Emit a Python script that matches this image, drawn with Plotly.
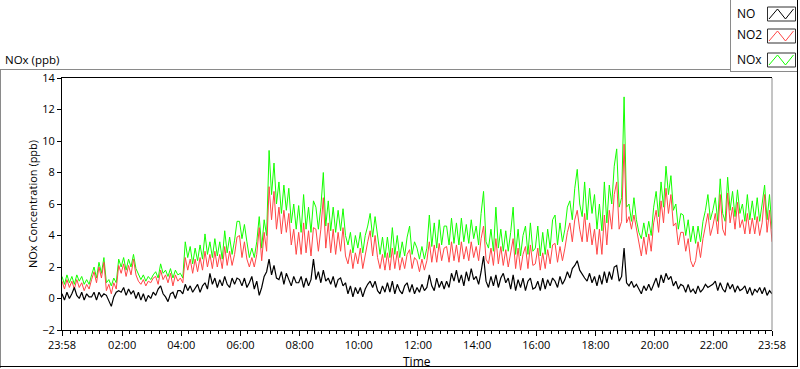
import plotly.graph_objects as go
import pandas as pd

# ---- data: 5-minute samples, 23:58 -> 23:58 next day (one row per hour) ----
no = [
    0.3, -0.1, 0.4, 0.0, 0.3, 0.7, 0.2, 0.0, 0.4, -0.1, 0.3, 0.1,
    0.1, 0.4, -0.1, 0.4, 0.1, 0.3, 0.2, -0.2, -0.5, 0.1, 0.4, 0.5,
    0.4, 0.7, 0.2, 0.6, 0.3, 0.5, 0.0, 0.4, -0.1, 0.3, -0.2, 0.2,
    0.0, 0.4, 0.2, 0.6, 0.8, 0.3, 0.1, -0.2, 0.3, 0.4, 0.0, 0.5,
    0.5, 0.3, 0.9, 0.5, 0.8, 0.4, 0.7, 0.9, 0.4, 0.8, 1.0, 0.6,
    1.6, 0.9, 1.3, 0.7, 1.2, 0.8, 1.4, 0.9, 0.7, 1.3, 0.9, 1.3,
    1.2, 0.8, 1.3, 0.7, 1.0, 1.4, 0.6, 1.1, 0.2, 0.7, 1.4, 1.7,
    2.5, 1.5, 2.1, 1.3, 1.2, 1.7, 0.9, 1.6, 1.2, 0.8, 1.4, 1.0,
    1.0, 1.4, 0.7, 1.3, 0.8, 1.2, 2.5, 1.2, 1.7, 1.0, 1.8, 1.1,
    1.3, 0.9, 1.4, 0.7, 1.2, 1.3, 0.8, 1.0, 0.3, 0.8, 0.1, 0.7,
    0.3, 0.7, 0.1, 0.6, 0.9, 1.1, 0.7, 1.1, 0.5, 0.3, 0.8, 0.4,
    1.0, 0.4, 1.1, 0.3, 0.9, 0.5, 0.3, 0.8, 1.0, 0.4, 0.9, 0.3,
    0.7, 0.4, 0.9, 0.5, 0.7, 1.5, 0.8, 0.5, 1.3, 0.7, 1.1, 0.6,
    1.1, 0.7, 1.6, 1.1, 1.8, 1.0, 1.5, 0.8, 1.7, 1.1, 1.9, 1.2,
    1.4, 0.9, 1.7, 2.7, 1.1, 0.7, 1.4, 0.8, 1.5, 0.7, 1.3, 1.6,
    1.0, 1.3, 0.6, 1.5, 0.5, 1.2, 0.7, 1.3, 0.5, 1.1, 1.3, 0.6,
    0.7, 1.1, 0.5, 1.3, 0.6, 1.2, 0.8, 1.3, 1.1, 0.7, 1.4, 0.9,
    1.2, 1.7, 1.3, 1.9, 2.1, 2.4, 1.8, 1.5, 1.3, 1.1, 1.6, 1.0,
    1.4, 0.8, 1.5, 0.9, 1.7, 1.0, 1.7, 1.2, 2.0, 2.1, 1.1, 1.4,
    3.2, 1.0, 0.8, 1.1, 0.7, 0.9, 0.6, 0.3, 0.8, 0.5, 0.9, 0.5,
    0.9, 1.3, 0.7, 1.5, 1.0, 1.6, 1.2, 1.4, 0.8, 1.1, 0.6, 0.9,
    0.8, 0.4, 0.9, 0.4, 0.6, 0.3, 0.8, 0.4, 0.6, 0.9, 0.7, 0.8,
    0.9, 1.1, 0.5, 1.0, 0.6, 0.4, 1.0, 0.6, 0.9, 0.4, 0.8, 0.5,
    0.6, 0.8, 0.3, 0.7, 0.2, 0.6, 0.4, 0.7, 0.3, 0.7, 0.2, 0.5, 0.3,
]
no2 = [
    1.1, 0.6, 1.2, 0.7, 1.1, 0.6, 1.2, 0.7, 1.0, 0.5, 0.9, 0.6,
    1.2, 1.7, 1.0, 2.0, 1.3, 2.3, 0.5, 0.9, 0.3, 1.0, 0.6, 2.1,
    1.6, 2.2, 1.4, 2.1, 1.5, 2.5, 1.5, 1.1, 0.9, 1.2, 0.8, 1.1,
    1.0, 1.3, 1.4, 0.9, 1.8, 1.2, 1.5, 1.0, 1.6, 0.8, 1.5, 1.1,
    1.3, 1.0, 2.6, 1.8, 2.5, 1.6, 2.5, 1.7, 2.6, 1.8, 3.0, 2.0,
    2.8, 1.9, 3.0, 2.0, 2.8, 1.9, 3.3, 2.1, 3.0, 2.1, 2.8, 3.9,
    4.0, 2.6, 3.6, 2.5, 2.0, 2.6, 2.0, 2.8, 4.5, 2.4, 4.2, 3.0,
    7.1, 5.0, 6.8, 4.4, 5.8, 4.1, 5.6, 4.2, 5.4, 3.4, 4.4, 2.8,
    4.2, 2.8, 4.8, 2.9, 4.3, 2.7, 4.5, 4.4, 3.0, 4.4, 6.4, 3.2,
    4.8, 2.9, 4.4, 2.8, 4.2, 3.0, 4.5, 2.7, 2.2, 3.1, 1.9, 2.9,
    2.2, 3.2, 1.9, 2.8, 3.6, 4.3, 2.7, 4.0, 2.6, 1.9, 2.8, 1.8,
    2.9, 1.8, 3.2, 1.9, 3.0, 1.8, 2.6, 1.9, 2.8, 3.1, 1.9, 2.6,
    2.4, 1.7, 2.5, 1.8, 2.4, 3.6, 2.3, 3.4, 2.3, 3.5, 2.4, 3.2,
    3.3, 2.3, 3.6, 2.4, 3.4, 2.3, 3.6, 2.5, 3.3, 2.4, 3.6, 2.6,
    3.3, 2.4, 3.8, 4.6, 2.5, 2.2, 3.2, 2.1, 3.8, 2.2, 3.3, 2.1,
    3.1, 2.0, 2.9, 3.8, 1.9, 3.2, 1.8, 2.8, 3.3, 1.9, 3.4, 2.1,
    2.2, 3.2, 1.8, 2.9, 1.9, 3.1, 2.2, 3.4, 3.5, 2.3, 3.3, 2.4,
    3.2, 4.2, 4.8, 3.6, 5.0, 5.6, 4.4, 3.6, 5.4, 3.6, 4.8, 3.4,
    4.4, 2.8, 4.4, 2.8, 5.3, 3.4, 5.6, 4.4, 6.6, 7.4, 4.4, 4.9,
    9.8, 4.8, 5.2, 4.4, 5.3, 4.4, 3.4, 2.7, 3.9, 2.8, 4.1, 3.0,
    4.8, 5.6, 4.2, 6.2, 4.8, 7.0, 5.4, 6.6, 4.6, 4.8, 3.4, 4.2,
    4.2, 3.0, 3.8, 2.4, 2.0, 2.4, 3.6, 2.6, 3.8, 4.6, 5.4, 4.0,
    4.6, 5.4, 4.1, 6.6, 4.4, 4.0, 6.7, 4.8, 5.8, 4.4, 6.1, 4.5,
    5.0, 4.1, 5.4, 4.1, 5.1, 4.1, 5.2, 4.0, 4.8, 6.6, 4.2, 5.6, 3.6,
]
nox = [
    1.4, 0.9, 1.5, 1.0, 1.4, 0.9, 1.5, 1.1, 1.4, 0.9, 1.2, 0.9,
    1.5, 2.0, 1.3, 2.3, 1.6, 2.6, 1.0, 1.2, 0.8, 1.3, 1.0, 2.5,
    2.0, 2.6, 1.8, 2.5, 2.0, 2.8, 1.9, 1.5, 1.2, 1.5, 1.1, 1.4,
    1.2, 1.5, 1.7, 1.3, 2.2, 1.6, 1.8, 1.4, 1.9, 1.3, 1.8, 1.5,
    1.6, 1.3, 3.6, 2.6, 3.3, 2.2, 3.2, 2.4, 3.4, 2.5, 4.1, 2.8,
    3.6, 2.6, 3.8, 2.7, 3.6, 2.5, 4.3, 2.9, 3.9, 2.8, 3.7, 4.9,
    4.9, 3.8, 4.7, 3.6, 2.6, 3.2, 2.6, 3.6, 5.2, 3.2, 5.0, 4.0,
    9.4, 6.6, 8.6, 6.0, 7.4, 5.4, 7.2, 5.6, 7.0, 4.8, 6.0, 4.4,
    5.9, 4.2, 6.6, 4.4, 5.8, 4.2, 6.2, 5.8, 4.4, 5.8, 8.0, 4.6,
    6.2, 4.3, 5.8, 4.2, 5.6, 4.3, 5.7, 4.0, 3.4, 4.2, 2.9, 4.0,
    3.2, 4.2, 2.9, 4.0, 4.6, 5.4, 3.9, 5.2, 3.8, 2.8, 3.9, 2.6,
    3.9, 2.6, 4.5, 2.8, 4.0, 2.6, 3.6, 2.7, 3.9, 4.6, 2.8, 3.6,
    3.2, 2.5, 3.3, 2.5, 3.2, 5.3, 3.3, 4.8, 3.2, 5.0, 3.4, 4.6,
    4.6, 3.4, 5.1, 3.5, 4.8, 3.4, 5.1, 3.6, 4.7, 3.5, 5.0, 3.8,
    4.6, 3.4, 5.4, 6.8, 3.6, 3.2, 4.4, 3.0, 5.8, 3.2, 4.4, 3.0,
    4.3, 3.0, 4.2, 5.8, 2.8, 4.4, 2.7, 4.0, 4.6, 2.8, 4.8, 3.0,
    3.2, 4.6, 2.7, 4.2, 2.8, 4.4, 3.2, 5.0, 5.3, 3.4, 4.8, 3.6,
    4.4, 5.8, 6.2, 5.0, 7.0, 8.2, 6.0, 5.2, 7.4, 5.0, 7.0, 5.4,
    6.6, 4.4, 6.0, 4.3, 7.4, 4.8, 7.2, 6.0, 8.4, 9.5, 5.8, 6.4,
    12.8, 5.8, 6.0, 4.9, 6.4, 5.0, 4.2, 3.8, 4.8, 3.9, 4.9, 4.0,
    5.8, 6.8, 5.2, 7.4, 5.8, 8.4, 6.6, 7.8, 5.6, 6.0, 4.4, 5.4,
    5.3, 4.0, 5.0, 3.6, 4.6, 3.5, 4.6, 3.6, 4.9, 5.6, 6.6, 5.0,
    5.6, 6.4, 4.9, 7.6, 5.4, 4.9, 7.7, 5.6, 6.8, 5.2, 6.9, 5.4,
    6.0, 4.9, 6.6, 5.0, 6.2, 5.0, 6.4, 4.9, 6.0, 7.2, 5.0, 6.6, 4.4,
]
series_names = ["NO", "NO2", "NOx"]
series_colors = ["#000000", "#FF4646", "#14FF00"]
y_ticks = [-2, 0, 2, 4, 6, 8, 10, 12, 14]
x_tick_labels = ["23:58", "02:00", "04:00", "06:00", "08:00", "10:00", "12:00",
                 "14:00", "16:00", "18:00", "20:00", "22:00", "23:58"]

t = pd.date_range("2020-01-01 23:58", periods=len(no), freq="5min")
x_tick_vals = [t[0]] + list(pd.date_range("2020-01-02 02:00", "2020-01-02 22:00", freq="2h")) + [t[-1]]

W, H = 800, 369
L, R, T, B = 62, 28, 78, 39
PW, PH = W - L - R, H - T - B


def X(px):
    return (px - L) / PW


def Y(py):
    return (H - B - py) / PH


FONT = "Open Sans"

fig = go.Figure()
for vals, name, col, w in [(nox, "NOx", series_colors[2], 1), (no2, "NO2", series_colors[1], 1),
                           (no, "NO", series_colors[0], 1.2)]:
    fig.add_trace(go.Scatter(x=t, y=vals, mode="lines", name=name,
                             line=dict(color=col, width=w)))

GRAY = "#8a8a8a"
shapes = []
# outer frame
shapes.append(dict(type="line", xref="paper", yref="paper", x0=X(0), x1=X(730), y0=Y(69.5), y1=Y(69.5),
                   line=dict(color=GRAY, width=1)))
shapes.append(dict(type="line", xref="paper", yref="paper", x0=X(0.5), x1=X(0.5), y0=Y(69.5), y1=Y(368),
                   line=dict(color=GRAY, width=1)))
shapes.append(dict(type="line", xref="paper", yref="paper", x0=X(0), x1=X(798), y0=Y(366.5), y1=Y(366.5),
                   line=dict(color="#000000", width=1)))
shapes.append(dict(type="line", xref="paper", yref="paper", x0=X(797.5), x1=X(797.5), y0=Y(0), y1=Y(367),
                   line=dict(color="#000000", width=1)))
# legend box
shapes.append(dict(type="line", xref="paper", yref="paper", x0=X(730.5), x1=X(730.5), y0=Y(0), y1=Y(72),
                   line=dict(color=GRAY, width=1)))
shapes.append(dict(type="line", xref="paper", yref="paper", x0=X(730), x1=X(797), y0=Y(71.5), y1=Y(71.5),
                   line=dict(color=GRAY, width=1)))
# plot right edge (gray)
shapes.append(dict(type="line", xref="paper", yref="paper", x0=1, x1=1, y0=0, y1=1,
                   line=dict(color=GRAY, width=1)))

annotations = []
legend_rows = [13, 35, 59]
for name, col, cy in zip(series_names, series_colors, legend_rows):
    shapes.append(dict(type="rect", xref="paper", yref="paper", x0=X(767.5), x1=X(795.5),
                       y0=Y(cy + 8), y1=Y(cy - 6), line=dict(color="#303030", width=1),
                       fillcolor="white"))
    pts = [(769, cy + 6), (777.5, cy - 4), (785.5, cy + 6), (793.5, cy - 4)]
    path = "M " + " L ".join(f"{X(a):.5f},{Y(b):.5f}" for a, b in pts)
    shapes.append(dict(type="path", xref="paper", yref="paper", path=path,
                       line=dict(color=col, width=1)))
    annotations.append(dict(text=name, xref="paper", yref="paper", x=X(735), y=Y(cy),
                            xanchor="left", yanchor="middle", showarrow=False,
                            font=dict(family=FONT, size=12, color="#000")))

annotations.append(dict(text="NOx (ppb)", xref="paper", yref="paper", x=X(3), y=Y(59),
                        xanchor="left", yanchor="middle", showarrow=False,
                        font=dict(family=FONT, size=11.5, color="#000")))
annotations.append(dict(text="NOx Concentration (ppb)", xref="paper", yref="paper", x=X(32), y=Y(204),
                        xanchor="center", yanchor="middle", textangle=-90, showarrow=False,
                        font=dict(family=FONT, size=11, color="#000")))
annotations.append(dict(text="Time", xref="paper", yref="paper", x=X(417), y=Y(361),
                        xanchor="center", yanchor="middle", showarrow=False,
                        font=dict(family=FONT, size=12, color="#000")))

fig.update_layout(
    width=W, height=H,
    margin=dict(l=L, r=R, t=T, b=B, pad=0),
    paper_bgcolor="white", plot_bgcolor="white",
    showlegend=False,
    shapes=shapes, annotations=annotations,
    xaxis=dict(range=[t[0], t[-1]], tickmode="array", tickvals=x_tick_vals, ticktext=x_tick_labels,
               showgrid=False, zeroline=False, showline=True, linecolor="#000", linewidth=1, mirror=True,
               ticks="outside", ticklen=5, tickcolor="#000",
               tickfont=dict(family=FONT, size=11, color="#000"),
               minor=dict(tick0="2020-01-02 00:00", dtick=15 * 60 * 1000, ticks="outside",
                          ticklen=3, tickcolor="#000", showgrid=False)),
    yaxis=dict(range=[-2, 14], tickmode="array", tickvals=y_ticks,
               showgrid=False, zeroline=False, showline=True, linecolor="#000", linewidth=1,
               ticks="outside", ticklen=4, tickcolor="#000",
               tickfont=dict(family=FONT, size=11, color="#000")),
)

fig.write_html("out.html", config={"displayModeBar": False},
               post_script="document.body.style.margin='0';document.body.style.overflow='hidden';")
